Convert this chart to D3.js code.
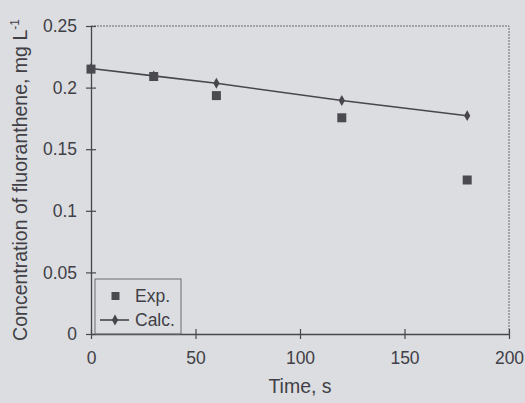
<!DOCTYPE html>
<html>
<head>
<meta charset="utf-8">
<script src="https://cdn.jsdelivr.net/npm/d3@7"></script>
<style>
  body { margin: 0; background: #dcdde1; }
  text { font-family: "Liberation Sans", Arial, sans-serif; fill: #404046; }
</style>
</head>
<body>
<script>
// data
var times   = [0, 30, 60, 120, 180];
var expVals = [0.215, 0.209, 0.1935, 0.1755, 0.125];
var calcVals = [0.2155, 0.2095, 0.2035, 0.1895, 0.1772];
var xTicks = [0, 50, 100, 150, 200];
var yTicks = [0, 0.05, 0.1, 0.15, 0.2, 0.25];
var yTickLabels = ["0", "0.05", "0.1", "0.15", "0.2", "0.25"];

var width = 525, height = 403;
var ink = "#46464c";
var tickFont = "17.5px", titleFont = "19.5px";

var svg = d3.select("body").append("svg")
    .attr("width", width)
    .attr("height", height);

svg.append("rect")
  .attr("width", width)
  .attr("height", height)
  .attr("fill", "#dcdde1");

var x = d3.scaleLinear().domain([0, 200]).range([91, 509]);
var y = d3.scaleLinear().domain([0, 0.25]).range([334, 26]);

// frame (top + right)
svg.append("path")
  .attr("d", "M" + x(0) + "," + y(0.25) + "H" + x(200) + "V" + y(0))
  .attr("fill", "none")
  .attr("stroke", "#6a6a70")
  .attr("stroke-width", 1)
  .attr("stroke-dasharray", "2,1");

// y axis
var yAxis = svg.append("g")
  .attr("transform", "translate(" + x(0) + ",0)")
  .call(d3.axisLeft(y).tickValues(yTicks).tickSize(0)
    .tickFormat(function(d, i) { return yTickLabels[i]; }));
yAxis.select(".domain").attr("stroke", ink).attr("stroke-width", 1.3);
yAxis.selectAll(".tick line").remove();
yAxis.selectAll(".tick").append("line")
  .attr("x1", -5).attr("x2", 5)
  .attr("stroke", ink).attr("stroke-width", 1.2);
yAxis.selectAll(".tick text")
  .attr("x", -14)
  .style("font-size", tickFont);

// x axis
var xAxis = svg.append("g")
  .attr("transform", "translate(0," + y(0) + ")")
  .call(d3.axisBottom(x).tickValues(xTicks).tickSize(0));
xAxis.select(".domain").attr("stroke", ink).attr("stroke-width", 1.3);
xAxis.selectAll(".tick line").remove();
xAxis.selectAll(".tick").append("line")
  .attr("y1", -5).attr("y2", 5)
  .attr("stroke", ink).attr("stroke-width", 1.2);
xAxis.selectAll(".tick text")
  .attr("y", 18)
  .style("font-size", tickFont);

// axis titles
svg.append("text")
  .attr("x", 300).attr("y", 393)
  .attr("text-anchor", "middle")
  .style("font-size", titleFont)
  .text("Time, s");

var yt = svg.append("text")
  .attr("transform", "translate(27,180) rotate(-90)")
  .attr("text-anchor", "middle")
  .style("font-size", titleFont);
yt.append("tspan").text("Concentration of fluoranthene, mg L");
yt.append("tspan").attr("dy", -8).style("font-size", "12px").text("-1");

// calc line
var line = d3.line()
  .x(function(d, i) { return x(times[i]); })
  .y(function(d) { return y(d); });

svg.append("path")
  .datum(calcVals)
  .attr("d", line)
  .attr("fill", "none")
  .attr("stroke", ink)
  .attr("stroke-width", 1.6);

svg.append("g").selectAll("path")
  .data(calcVals)
  .enter().append("path")
  .attr("d", d3.symbol(d3.symbolDiamond, 34))
  .attr("transform", function(d, i) { return "translate(" + x(times[i]) + "," + y(d) + ")"; })
  .attr("fill", ink);

// exp squares
svg.append("g").selectAll("rect")
  .data(expVals)
  .enter().append("rect")
  .attr("x", function(d, i) { return x(times[i]) - 4.5; })
  .attr("y", function(d) { return y(d) - 4.5; })
  .attr("width", 9).attr("height", 9)
  .attr("fill", "#4a4a50");

// legend
var lg = svg.append("g");
lg.append("rect")
  .attr("x", 95).attr("y", 279)
  .attr("width", 86).attr("height", 55)
  .attr("fill", "none")
  .attr("stroke", "#6a6a70")
  .attr("stroke-width", 1);
lg.append("rect")
  .attr("x", 111.5).attr("y", 292)
  .attr("width", 8).attr("height", 8)
  .attr("fill", "#4a4a50");
lg.append("text")
  .attr("x", 135).attr("y", 302)
  .style("font-size", tickFont)
  .text("Exp.");
lg.append("line")
  .attr("x1", 100).attr("x2", 129)
  .attr("y1", 320).attr("y2", 320)
  .attr("stroke", ink).attr("stroke-width", 1.6);
lg.append("path")
  .attr("d", d3.symbol(d3.symbolDiamond, 34))
  .attr("transform", "translate(115,320)")
  .attr("fill", ink);
lg.append("text")
  .attr("x", 135).attr("y", 326)
  .style("font-size", tickFont)
  .text("Calc.");
</script>
</body>
</html>
